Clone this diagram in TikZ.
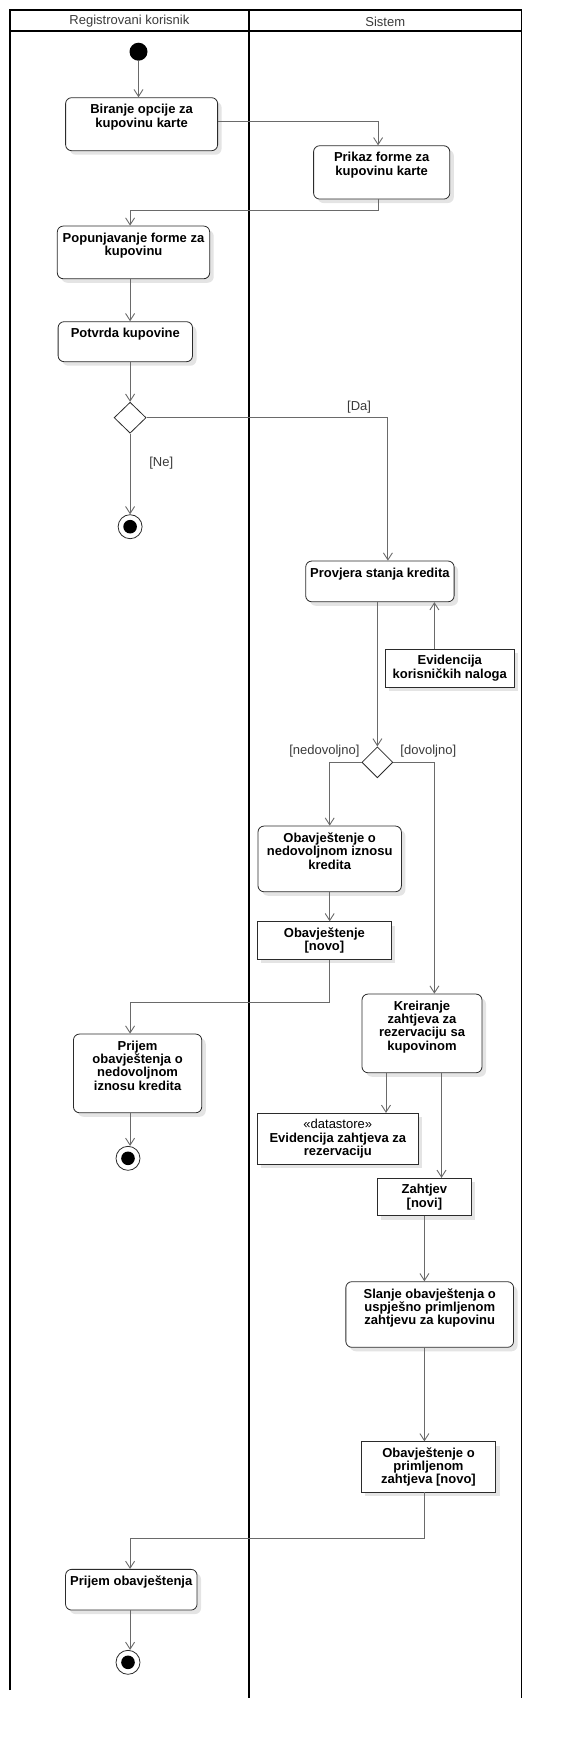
\documentclass[tikz,border=0pt]{standalone}
\usepackage{fontspec}
\setmainfont{Liberation Sans}
\usetikzlibrary{arrows.meta,positioning,calc,shapes.geometric,shadows}
\definecolor{boxline}{HTML}{2B2B2B}
\definecolor{flowgray}{HTML}{6A6A6A}
\definecolor{lblgray}{HTML}{3A3A3A}
\definecolor{shadowgray}{HTML}{E4E4E4}
\newcommand{\actfont}{\bfseries\fontsize{13}{13.3}\selectfont}
\newcommand{\plainfont}{\mdseries\fontsize{13}{13.3}\selectfont}
\tikzset{
  lane/.style={line width=1.6pt, black},
  head/.style={font=\plainfont, text=lblgray, inner sep=0pt},
  act/.style={draw=boxline, fill=white, line width=0.8pt, rounded corners=6pt,
    drop shadow={shadow xshift=4pt, shadow yshift=-4pt, fill=shadowgray, opacity=1}},
  acttxt/.style={anchor=north, yshift=-7pt, inner sep=0pt, align=center, font=\actfont},
  obj/.style={draw=boxline, fill=white, line width=0.8pt, inner sep=0pt, align=center, font=\actfont,
    drop shadow={shadow xshift=4pt, shadow yshift=-4pt, fill=shadowgray, opacity=1}},
  odluka/.style={diamond, draw=boxline, fill=white, line width=0.8pt, inner sep=0pt,
    minimum width=32pt, minimum height=31pt},
  pocetni/.style={circle, fill=black, inner sep=0pt, minimum size=18pt},
  zavrsni/.style={circle, draw=boxline, fill=white, line width=0.8pt, inner sep=0pt, minimum size=24pt,
    path picture={\fill[black] (path picture bounding box.center) circle (6.8pt);}},
  flow/.style={draw=flowgray, line width=0.9pt, -{Straight Barb[length=7pt,width=9pt]}},
  uslov/.style={font=\plainfont, text=lblgray, inner sep=0pt}
}

\begin{document}
\begin{tikzpicture}[x=1pt, y=-1pt]
          \useasboundingbox (0,0) rectangle (562,1738);
          \draw[lane] (9.7,1690) -- (9.7,10) -- (521.5,10) -- (521.5,1698.3);
          \draw[lane] (9.7,31) -- (521.5,31);
          \draw[lane] (249.1,10) -- (249.1,1698.3);
          \node[head] (lane1) at (129.4,21.5) {Registrovani korisnik};
          \node[head] (lane2) at (385.3,21.5) {Sistem};

          \node[pocetni] (pocetak) at (138.5,51.7) {};
          \node[act, minimum width=152pt, minimum height=53pt] (biranje) at (141.6,124.2) {};
          \node[acttxt] (biranjeT) at (biranje.north) {Biranje opcije za\\kupovinu karte};
          \node[act, minimum width=136.2pt, minimum height=53.3pt] (prikaz) at (381.7,172.4) {};
          \node[acttxt] (prikazT) at (prikaz.north) {Prikaz forme za\\kupovinu karte};
          \node[act, minimum width=152.4pt, minimum height=52.7pt] (popun) at (133.5,252.4) {};
          \node[acttxt] (popunT) at (popun.north) {Popunjavanje forme za\\kupovinu};
          \node[act, minimum width=134.4pt, minimum height=40pt] (potvrda) at (125.3,341.7) {};
          \node[acttxt] (potvrdaT) at (potvrda.north) {Potvrda kupovine};
          \node[odluka] (odluka1) at (130.1,417.7) {};
          \node[zavrsni] (kraj1) at (130.1,526.7) {};
          \node[uslov] (uslovDa) at (359.1,406.7) {[Da]};
          \node[uslov] (uslovNe) at (161.3,463.3) {[Ne]};

          \node[act, minimum width=148.4pt, minimum height=40.7pt] (provjera) at (379.9,581.4) {};
          \node[acttxt] (provjeraT) at (provjera.north) {Provjera stanja kredita};
          \node[obj, minimum width=129pt, minimum height=38pt] (evkor) at (449.8,668.3) {Evidencija\\korisničkih naloga};
          \node[odluka, minimum width=31pt] (odluka2) at (377.4,762.3) {};
          \node[uslov] (uslovNedov) at (324.4,750.7) {[nedovoljno]};
          \node[uslov] (uslovDov) at (428.3,750.7) {[dovoljno]};

          \node[act, minimum width=143.4pt, minimum height=65.7pt] (obav) at (329.7,858.9) {};
          \node[acttxt] (obavT) at (obav.north) {Obavještenje o\\nedovoljnom iznosu\\kredita};
          \node[obj, minimum width=134.1pt, minimum height=37.6pt] (obavnovo) at (324.4,940.5) {Obavještenje\\{}[novo]};
          \node[act, minimum width=128.3pt, minimum height=78.7pt] (prijem) at (137.6,1073.4) {};
          \node[acttxt] (prijemT) at (prijem.north) {Prijem\\obavještenja o\\nedovoljnom\\iznosu kredita};
          \node[zavrsni] (kraj2) at (128,1158.3) {};

          \node[act, minimum width=120pt, minimum height=78.7pt] (kreiranje) at (422,1033.4) {};
          \node[acttxt] (kreiranjeT) at (kreiranje.north) {Kreiranje\\zahtjeva za\\rezervaciju sa\\kupovinom};
          \node[obj, minimum width=161pt, minimum height=51pt] (datastore) at (337.8,1138.8) {{\mdseries «datastore»}\\Evidencija zahtjeva za\\rezervaciju};
          \node[obj, minimum width=93.9pt, minimum height=37.4pt] (zahtjev) at (424.4,1197) {Zahtjev\\{}[novi]};
          \node[act, minimum width=167.7pt, minimum height=65.6pt] (slanje) at (429.7,1314.5) {};
          \node[acttxt] (slanjeT) at (slanje.north) {Slanje obavještenja o\\uspješno primljenom\\zahtjevu za kupovinu};
          \node[obj, minimum width=134.4pt, minimum height=50.3pt] (obavprim) at (428.5,1466.9) {Obavještenje o\\primljenom\\zahtjeva [novo]};
          \node[act, minimum width=131.5pt, minimum height=40.7pt] (prijemobav) at (131.3,1589.7) {};
          \node[acttxt] (prijemobavT) at (prijemobav.north) {Prijem obavještenja};
          \node[zavrsni] (kraj3) at (128,1662.3) {};

          \draw[flow] (pocetak) -- (pocetak |- biranje.north);
          \draw[flow] ([yshift=2.5pt]biranje.east) -| ([xshift=-3.6pt]prikaz.north);
          \draw[flow] ([xshift=-3.6pt]prikaz.south) -- ++(0,11) -| (popun.north -| odluka1);
          \draw[flow] (popun.south -| odluka1) -- (potvrda.north -| odluka1);
          \draw[flow] (potvrda.south -| odluka1) -- (odluka1.north);
          \draw[flow] (odluka1.south) -- (kraj1.north);
          \draw[flow] (odluka1.east) -| ([xshift=8pt]provjera.north);
          \draw[flow] (provjera.south -| odluka2) -- (odluka2.north);
          \draw[flow] ([xshift=-15.4pt]evkor.north) -- ([xshift=-15.4pt]evkor.north |- provjera.south);
          \draw[flow] (odluka2.west) -| (obav.north);
          \draw[flow] (odluka2.east) -| ([xshift=12.4pt]kreiranje.north);
          \draw[flow] (obav.south) -- (obav.south |- obavnovo.north);
          \draw[flow] (obavnovo.south -| obav) -- ++(0,42.7) -| (prijem.north -| kraj1);
          \draw[flow] (prijem.south -| kraj1) -- (kraj2.north -| kraj1);
          \draw[flow] ([xshift=-36pt]kreiranje.south) -- ([xshift=-36pt]kreiranje.south |- datastore.north);
          \draw[flow] ([xshift=19.5pt]kreiranje.south) -- ([xshift=19.5pt]kreiranje.south |- zahtjev.north);
          \draw[flow] (zahtjev.south) -- (zahtjev.south |- slanje.north);
          \draw[flow] (slanje.south -| zahtjev) -- (zahtjev |- obavprim.north);
          \draw[flow] (obavprim.south -| zahtjev) -- ++(0,45.7) -| (prijemobav.north -| kraj1);
          \draw[flow] (prijemobav.south -| kraj1) -- (kraj3.north -| kraj1);
        \end{tikzpicture}
\end{document}
